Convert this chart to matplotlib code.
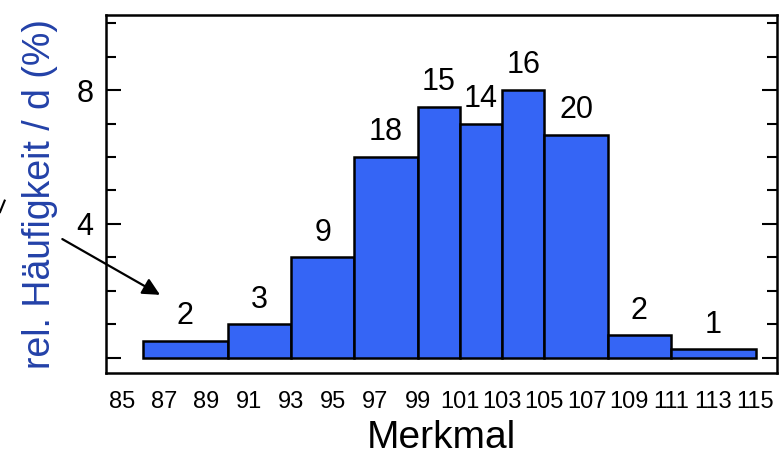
import matplotlib
matplotlib.use("Agg")
import matplotlib.pyplot as plt
import numpy as np
from matplotlib.lines import Line2D

plt.rcParams["font.family"] = ["Liberation Sans", "DejaVu Sans"]

# class edges of the histogram (Merkmal) and absolute counts per class
edges = [86, 90, 93, 96, 99, 101, 103, 105, 108, 111, 115]
counts = [2, 3, 9, 18, 15, 14, 16, 20, 2, 1]
xtick_values = list(range(85, 116, 2))
ytick_values = [0, 4, 8]
ytick_labels = ["", "4", "8"]

edges = np.array(edges, dtype=float)
counts = np.array(counts, dtype=float)
widths = np.diff(edges)
# relative frequency (%) divided by class width
density = counts / counts.sum() * 100 / widths

fig = plt.figure(figsize=(7.79, 4.58), dpi=100)
ax = fig.add_axes([0.136, 0.186, 0.861, 0.781])

bars = ax.bar(edges[:-1], density, width=widths, align="edge",
              color="#3565f5", edgecolor="black", linewidth=1.8)

for b, c in zip(bars, counts):
    ax.annotate(f"{int(c)}", (b.get_x() + b.get_width() / 2, b.get_height()),
                xytext=(0, 7), textcoords="offset points",
                ha="center", va="bottom", fontsize=22)

ax.set_xlim(84.24, 116.0)
ax.set_ylim(-0.45, 10.24)

ax.set_xticks(xtick_values)
ax.tick_params(axis="x", length=0, pad=13, labelsize=17)

ax.set_yticks(ytick_values, labels=ytick_labels)
ax.set_yticks(range(0, 11), minor=True)
ax.tick_params(axis="y", which="major", direction="in", length=11, width=1.5,
               labelsize=22, pad=9, right=True)
ax.tick_params(axis="y", which="minor", direction="in", length=7, width=1.5,
               right=True)

for s in ax.spines.values():
    s.set_linewidth(1.8)

ax.set_xlabel("Merkmal", fontsize=28, labelpad=5)
ax.set_ylabel("rel. Häufigkeit / d (%)", fontsize=27, color="#2341a8", labelpad=13)

# arrow pointing at the first class
ax.annotate("", xy=(86.8, 1.88), xycoords="data",
            xytext=(0.08, 0.478), textcoords="figure fraction",
            arrowprops=dict(arrowstyle="-|>", color="black", lw=1.6,
                            mutation_scale=26, shrinkA=0, shrinkB=0))

# small leftover mark at the left edge
fig.add_artist(Line2D([0.0, 0.006], [0.537, 0.562], color="black", lw=1.5,
                      transform=fig.transFigure))

fig.savefig("out.png", dpi=100)
